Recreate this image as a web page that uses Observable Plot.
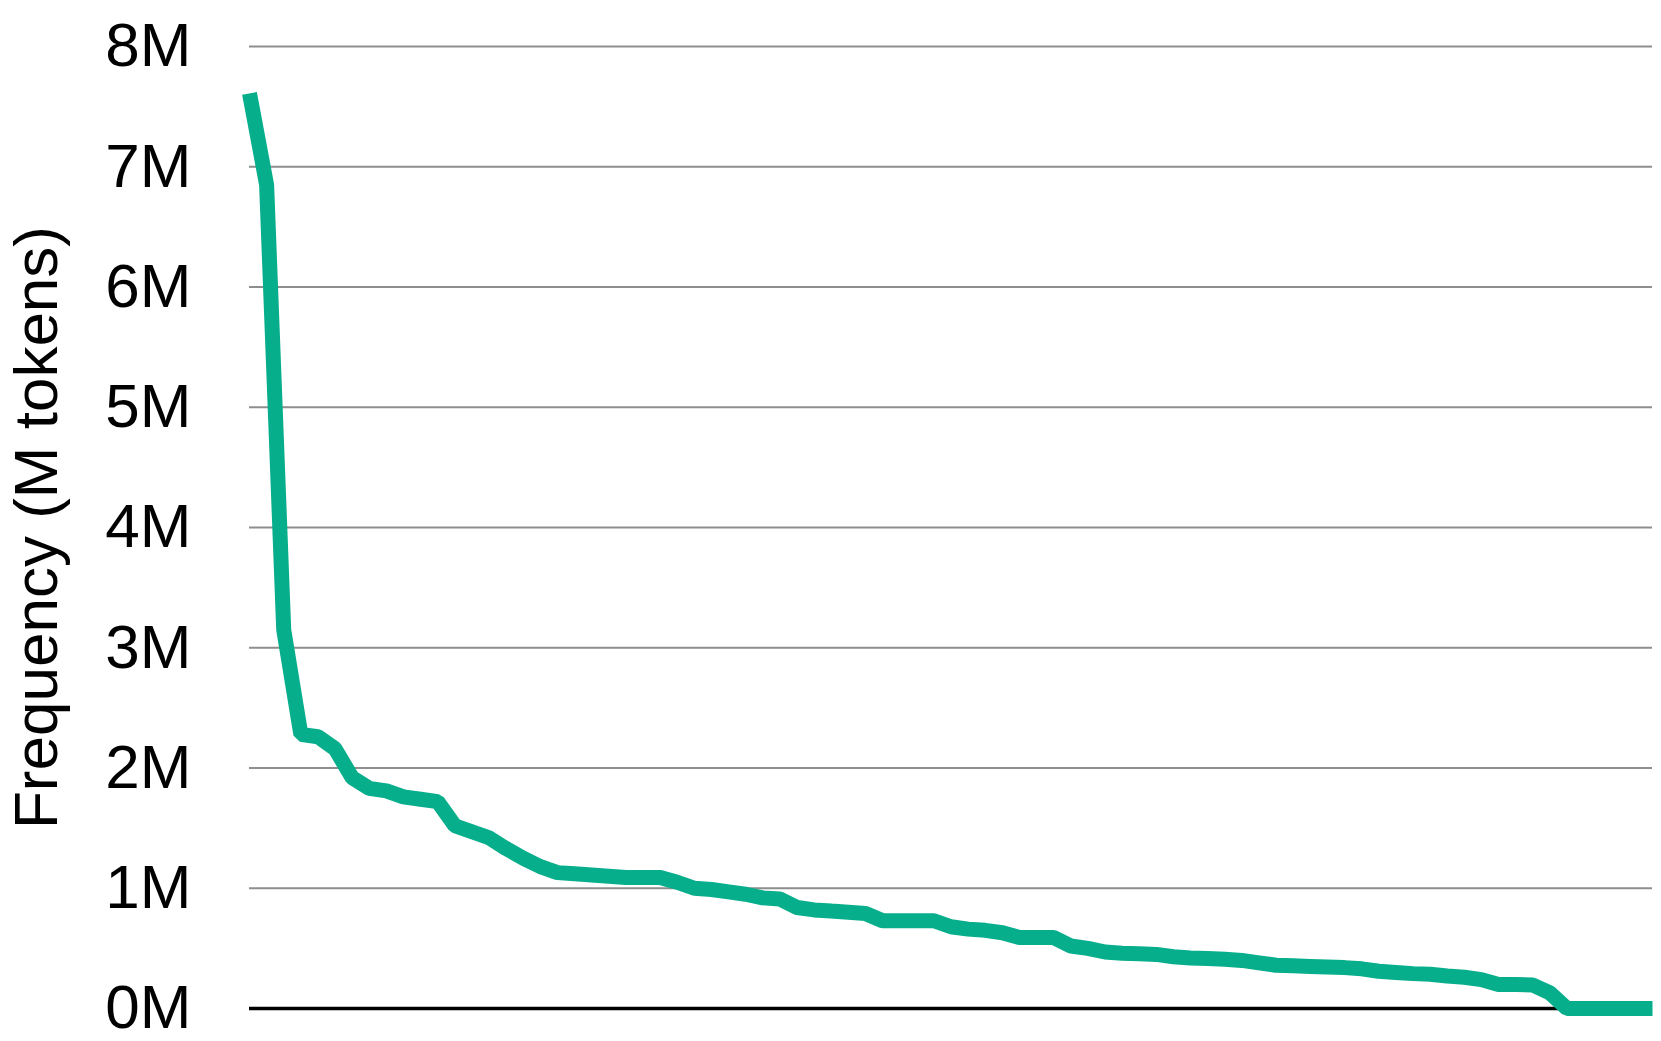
<!DOCTYPE html>
<html>
<head>
<meta charset="utf-8">
<script src="https://cdn.jsdelivr.net/npm/d3@7"></script>
<script src="https://cdn.jsdelivr.net/npm/@observablehq/plot@0.6"></script>
<style>
  html, body { margin: 0; padding: 0; background: #ffffff; }
  #chart svg { display: block; }
</style>
</head>
<body>
<div id="chart"></div>
<script>
// Token frequency (millions) by rank
const frequency = [
  7.61, 6.85, 3.15, 2.28, 2.26, 2.16, 1.92, 1.83, 1.81, 1.76,
  1.74, 1.72, 1.52, 1.47, 1.42, 1.33, 1.25, 1.18, 1.13, 1.12,
  1.11, 1.10, 1.09, 1.09, 1.09, 1.05, 1.00, 0.99, 0.97, 0.95,
  0.92, 0.91, 0.84, 0.82, 0.81, 0.80, 0.79, 0.73, 0.73, 0.73,
  0.73, 0.68, 0.66, 0.65, 0.63, 0.59, 0.59, 0.59, 0.52, 0.50,
  0.47, 0.46, 0.455, 0.45, 0.43, 0.42, 0.415, 0.41, 0.40, 0.38,
  0.36, 0.355, 0.35, 0.345, 0.34, 0.33, 0.31, 0.30, 0.29, 0.285,
  0.27, 0.26, 0.24, 0.20, 0.20, 0.195, 0.13, 0, 0, 0,
  0, 0, 0
];
const rank = frequency.map((_, i) => i + 1);
const yTicks = [0, 1, 2, 3, 4, 5, 6, 7, 8];
const yTickLabels = ["0M", "1M", "2M", "3M", "4M", "5M", "6M", "7M", "8M"];
const yLabel = "Frequency (M tokens)";

const data = rank.map((r, i) => ({rank: r, freq: frequency[i]}));

const chart = Plot.plot({
  width: 1661,
  height: 1041,
  marginLeft: 249,
  marginRight: 9,
  marginTop: 46,
  marginBottom: 33,
  style: {fontFamily: "'Liberation Sans', Arial, Helvetica, sans-serif", fontSize: "62px", background: "#ffffff", color: "#000"},
  x: {domain: [1, frequency.length], axis: null},
  y: {domain: [0, 8], axis: null},
  marks: [
    Plot.gridY(yTicks.filter(d => d !== 0), {stroke: "#8e8e8e", strokeOpacity: 1, strokeWidth: 2}),
    Plot.axisY(yTicks, {
      tickSize: 0,
      tickPadding: 58,
      tickFormat: (d) => yTickLabels[yTicks.indexOf(d)],
      label: yLabel,
      labelAnchor: "center",
      labelArrow: "none",
      labelOffset: 237,
      fontSize: 62
    }),
    Plot.ruleY([0], {stroke: "#000", strokeWidth: 3.5}),
    Plot.line(data, {x: "rank", y: "freq", stroke: "#07ae8b", strokeWidth: 15, strokeLinejoin: "miter", strokeLinecap: "butt"})
  ]
});
document.getElementById("chart").appendChild(chart);
</script>
</body>
</html>
